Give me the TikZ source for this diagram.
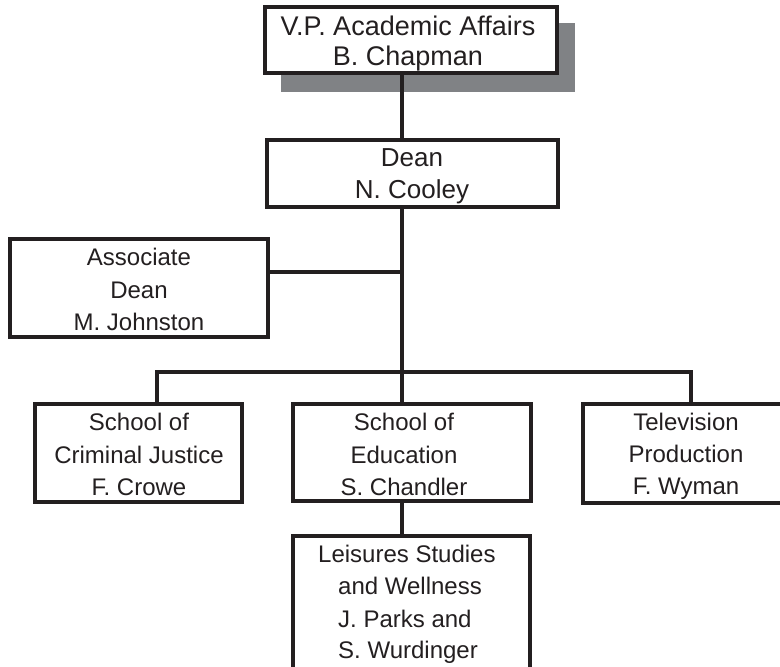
\documentclass[tikz,border=0pt]{standalone}
\usepackage{fontspec}
\setmainfont{Liberation Sans}
\definecolor{ink}{RGB}{35,31,32}
\definecolor{shade}{RGB}{128,130,133}
\begin{document}
\begin{tikzpicture}[x=1pt,y=-1pt,
  box/.style={draw=ink, line width=3.2pt, fill=white, rectangle, inner sep=0pt},
  shadowbox/.style={fill=shade, rectangle, inner sep=0pt},
  lbl/.style={anchor=base, text=ink, inner sep=0pt, font=\fontsize{24}{28}\selectfont},
  lblL/.style={lbl, anchor=base west},
  wire/.style={draw=ink, line width=3.2pt, line join=miter}]
\fill[white] (0,0) rectangle (780,667);
\clip (0,0) rectangle (780,667);
\useasboundingbox (0,0) rectangle (780,667);

% junction points
\coordinate (ajct) at (402,272);
\coordinate (jct) at (402,372);
\coordinate (lstub) at (157,372);
\coordinate (rstub) at (691,372);

% top box with shadow
\node[shadowbox, minimum width=294pt, minimum height=69pt] (vpshadow) at (428,57.5) {};
\node[box, minimum width=292pt, minimum height=66pt] (vp) at (411,40) {};
\node[lbl, font=\fontsize{27}{30}\selectfont] (vp1) at (408,35) {V.P. Academic Affairs};
\node[lbl, font=\fontsize{27}{30}\selectfont] (vp2) at (408,65) {B. Chapman};

% dean
\node[box, minimum width=291pt, minimum height=67pt] (dean) at (412.5,173.5) {};
\node[lbl, font=\fontsize{26}{30}\selectfont] (dean1) at (412,166) {Dean};
\node[lbl, font=\fontsize{26}{30}\selectfont] (dean2) at (412,198) {N. Cooley};

% associate dean
\node[box, minimum width=258pt, minimum height=98pt] (assoc) at (139,288) {};
\node[lbl] (assoc1) at (139,265) {Associate};
\node[lbl] (assoc2) at (139,298) {Dean};
\node[lbl] (assoc3) at (139,330) {M. Johnston};

% bottom row
\node[box, minimum width=207pt, minimum height=98pt] (cj) at (138.5,453) {};
\node[lbl] (cj1) at (139,430) {School of};
\node[lbl] (cj2) at (139,463) {Criminal Justice};
\node[lbl] (cj3) at (139,495) {F. Crowe};

\node[box, minimum width=238pt, minimum height=97pt] (edu) at (412,452.5) {};
\node[lbl] (edu1) at (404,430) {School of};
\node[lbl] (edu2) at (404,463) {Education};
\node[lbl] (edu3) at (404,495) {S. Chandler};

\node[box, minimum width=217pt, minimum height=99pt] (tv) at (691.5,453.5) {};
\node[lbl] (tv1) at (686,430) {Television};
\node[lbl] (tv2) at (686,462) {Production};
\node[lbl] (tv3) at (686,494) {F. Wyman};

% leisure studies
\node[box, minimum width=237pt, minimum height=164pt] (leis) at (411.5,618) {};
\node[lblL] (leis1) at (318,562) {Leisures Studies};
\node[lblL] (leis2) at (338,594) {and Wellness};
\node[lblL] (leis3) at (338,627) {J. Parks and};
\node[lblL] (leis4) at (338,658) {S. Wurdinger};

% connectors
\draw[wire] (vp.south -| jct) -- (dean.north -| jct);
\draw[wire] (dean.south -| jct) -- (jct);
\draw[wire] (assoc.east |- ajct) -- (ajct);
\draw[wire] (cj.north -| lstub) -- (lstub) -- (rstub) -- (tv.north -| rstub);
\draw[wire] (jct) -- (edu.north -| jct);
\draw[wire] (edu.south -| jct) -- (leis.north -| jct);
\end{tikzpicture}
\end{document}
